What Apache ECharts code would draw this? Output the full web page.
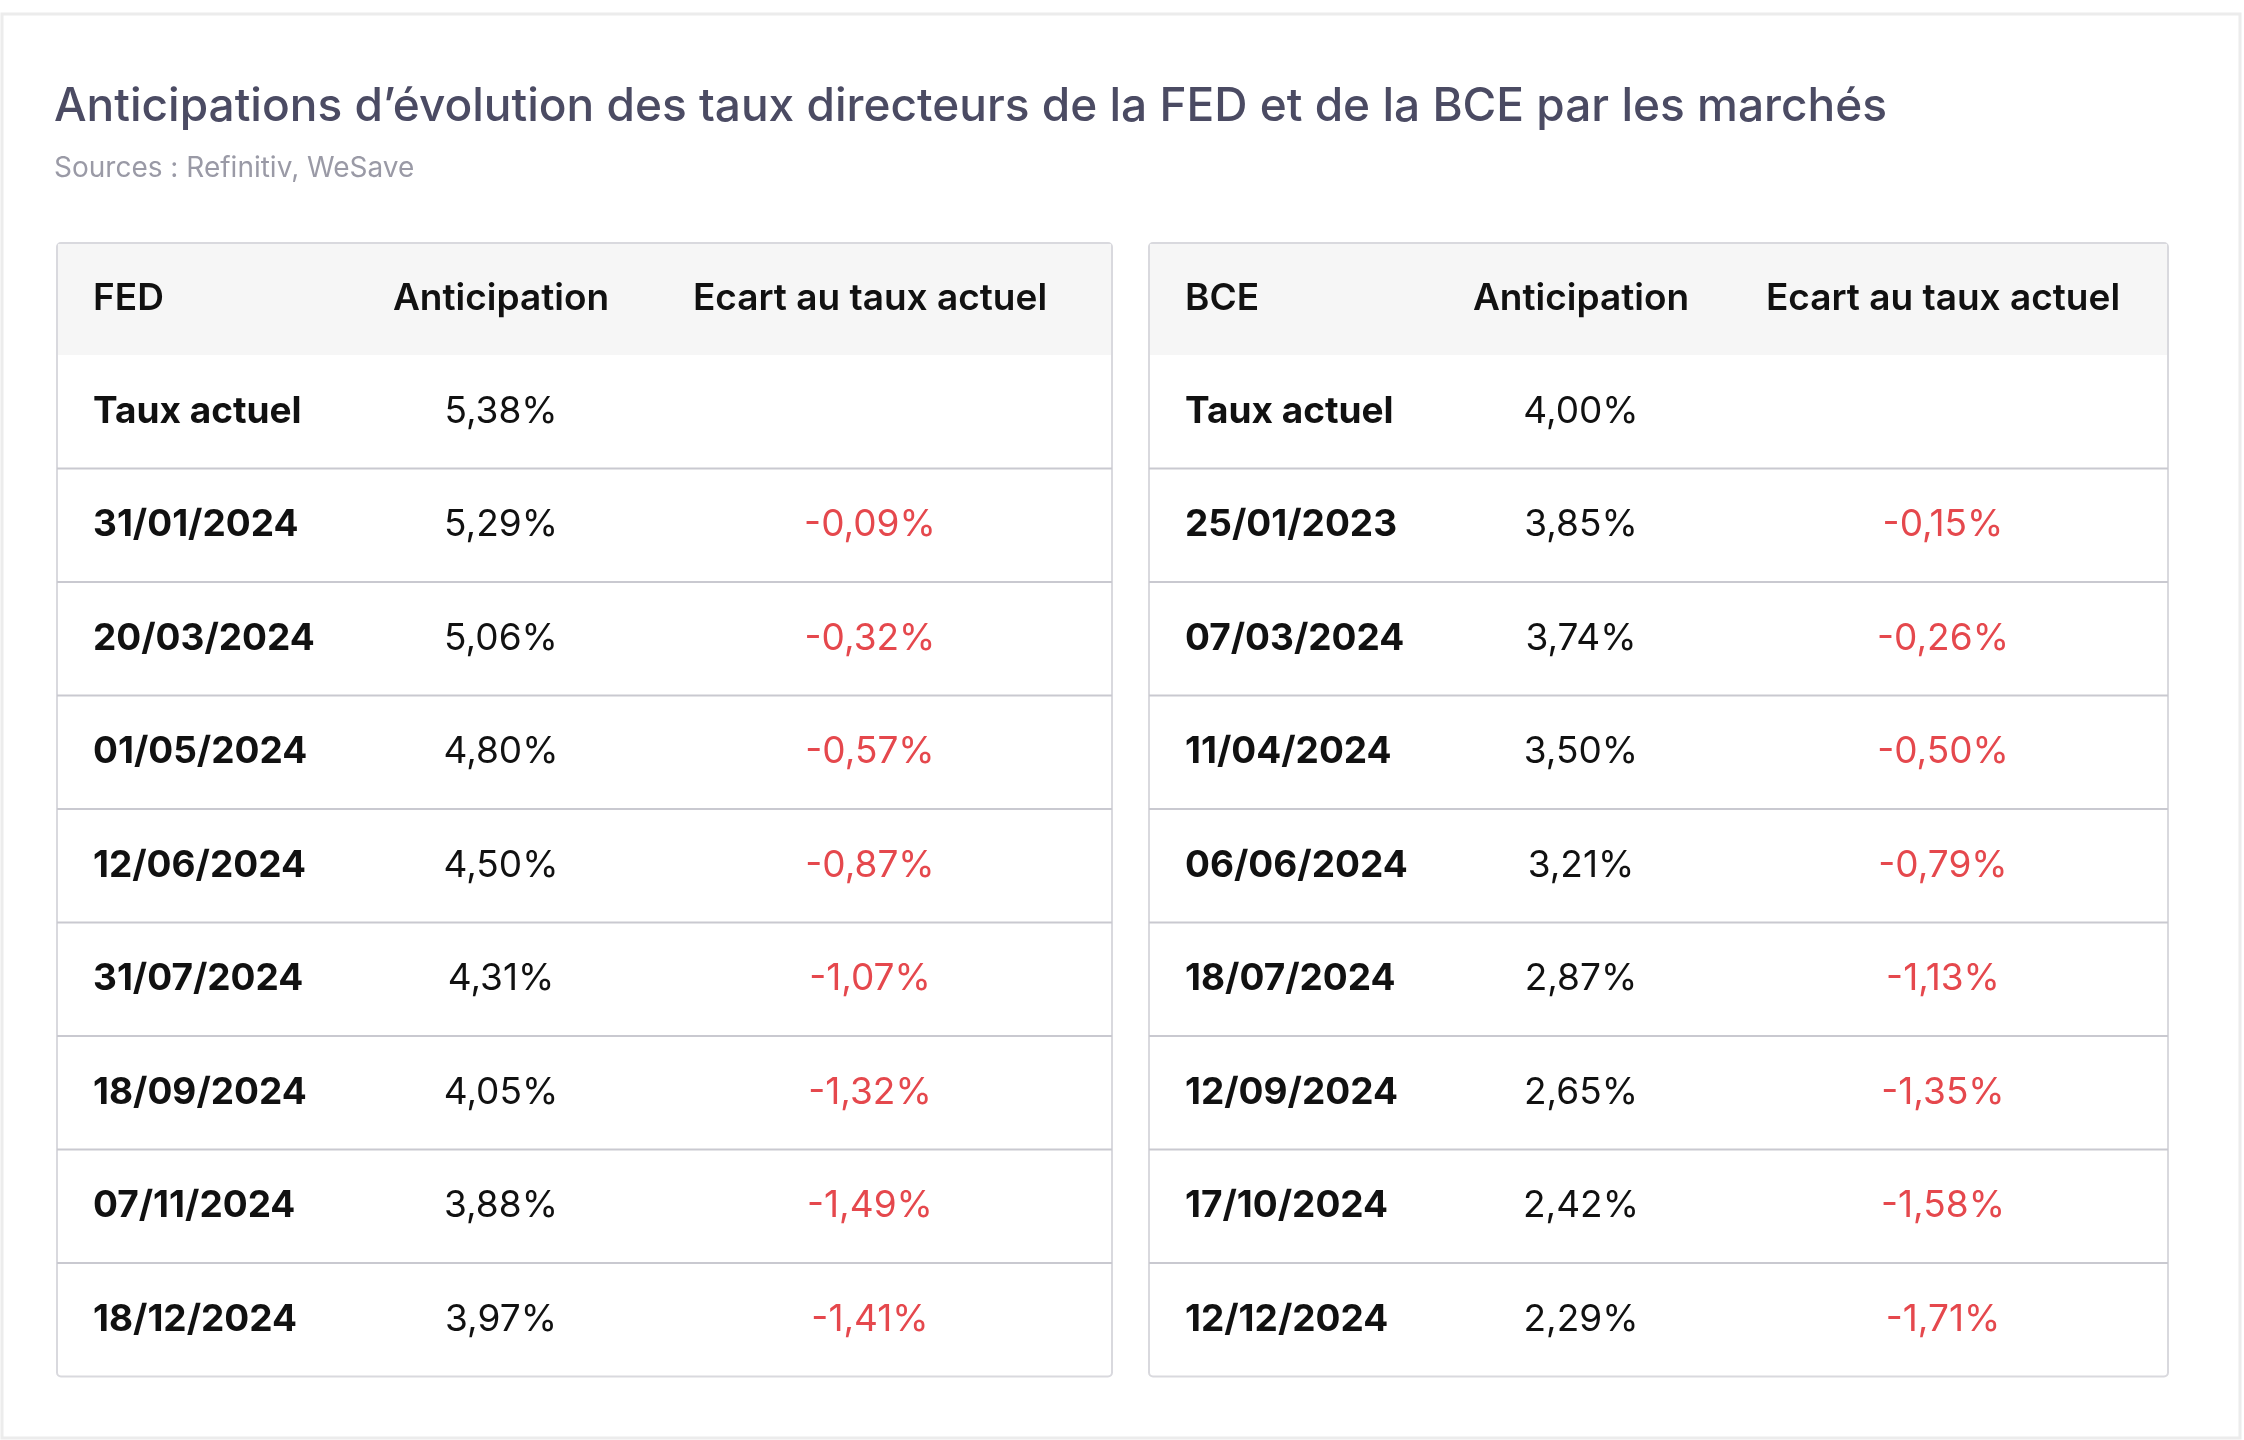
<!DOCTYPE html>
<html>
<head>
<meta charset="utf-8">
<script src="https://cdn.jsdelivr.net/npm/echarts@6/dist/echarts.min.js"></script>
<style>html,body{margin:0;background:#fff}#chart{width:2244px;height:1440px}</style>
</head>
<body>
<div id="chart"></div>
<script>
const titleText = 'Anticipations d’évolution des taux directeurs de la FED et de la BCE par les marchés'
const sourceText = 'Sources : Refinitiv, WeSave'
const headers = ['Anticipation', 'Ecart au taux actuel']

const fedDates = ['Taux actuel', '31/01/2024', '20/03/2024', '01/05/2024', '12/06/2024', '31/07/2024', '18/09/2024', '07/11/2024', '18/12/2024']
const fedRates = ['5,38%', '5,29%', '5,06%', '4,80%', '4,50%', '4,31%', '4,05%', '3,88%', '3,97%']
const fedGaps = ['', '-0,09%', '-0,32%', '-0,57%', '-0,87%', '-1,07%', '-1,32%', '-1,49%', '-1,41%']

const bceDates = ['Taux actuel', '25/01/2023', '07/03/2024', '11/04/2024', '06/06/2024', '18/07/2024', '12/09/2024', '17/10/2024', '12/12/2024']
const bceRates = ['4,00%', '3,85%', '3,74%', '3,50%', '3,21%', '2,87%', '2,65%', '2,42%', '2,29%']
const bceGaps = ['', '-0,15%', '-0,26%', '-0,50%', '-0,79%', '-1,13%', '-1,35%', '-1,58%', '-1,71%']

const chart = echarts.init(document.getElementById('chart'))
const font = 'Inter, "Noto Sans", sans-serif'
const tableTop = 243
const headH = 112
const rowH = 113.5

// construit un tableau en éléments graphiques
function table(x, w, name, dates, rates, gaps, colRate, colGap) {
  const els = []
  const h = headH + rowH * dates.length
  els.push({ type: 'rect', shape: { x, y: tableTop, width: w, height: h, r: 4 }, style: { fill: '#fff', stroke: '#d9d9de', lineWidth: 2 }, z: 1 })
  els.push({ type: 'rect', shape: { x: x + 1, y: tableTop + 1, width: w - 2, height: headH - 1 }, style: { fill: '#f6f6f6' }, z: 2 })
  const cy = tableTop + headH / 2
  els.push({ type: 'text', x: x + 36, y: cy, style: { text: name, font: `600 37px ${font}`, fill: '#111', verticalAlign: 'middle' }, z: 3 })
  els.push({ type: 'text', x: colRate, y: cy, style: { text: headers[0], font: `600 37px ${font}`, fill: '#111', align: 'center', verticalAlign: 'middle' }, z: 3 })
  els.push({ type: 'text', x: colGap, y: cy, style: { text: headers[1], font: `600 37px ${font}`, fill: '#111', align: 'center', verticalAlign: 'middle' }, z: 3 })
  dates.forEach((d, i) => {
    const y0 = tableTop + headH + rowH * i
    const my = y0 + rowH / 2
    if (i > 0) els.push({ type: 'line', shape: { x1: x, y1: y0, x2: x + w, y2: y0 }, style: { stroke: '#c9c9d0', lineWidth: 2 }, z: 3 })
    els.push({ type: 'text', x: x + 36, y: my, style: { text: d, font: `bold 37px ${font}`, fill: '#111', verticalAlign: 'middle' }, z: 3 })
    els.push({ type: 'text', x: colRate, y: my, style: { text: rates[i], font: `37px ${font}`, fill: '#111', align: 'center', verticalAlign: 'middle' }, z: 3 })
    if (gaps[i]) els.push({ type: 'text', x: colGap, y: my, style: { text: gaps[i], font: `37px ${font}`, fill: '#e5484d', align: 'center', verticalAlign: 'middle' }, z: 3 })
  })
  return els
}

chart.setOption({
  backgroundColor: '#fff',
  graphic: [
    { type: 'rect', shape: { x: 2, y: 14, width: 2238, height: 1424 }, style: { fill: '#fff', stroke: '#ececec', lineWidth: 3 }, z: 0 },
    { type: 'text', x: 54, y: 107, style: { text: titleText, font: `500 46px ${font}`, fill: '#4b4b63', verticalAlign: 'middle' } },
    { type: 'text', x: 54, y: 169, style: { text: sourceText, font: `28px ${font}`, fill: '#9a9aa6', verticalAlign: 'middle' } },
    ...table(57, 1055, 'FED', fedDates, fedRates, fedGaps, 501, 870),
    ...table(1149, 1019, 'BCE', bceDates, bceRates, bceGaps, 1581, 1943)
  ]
})
</script>
</body>
</html>
